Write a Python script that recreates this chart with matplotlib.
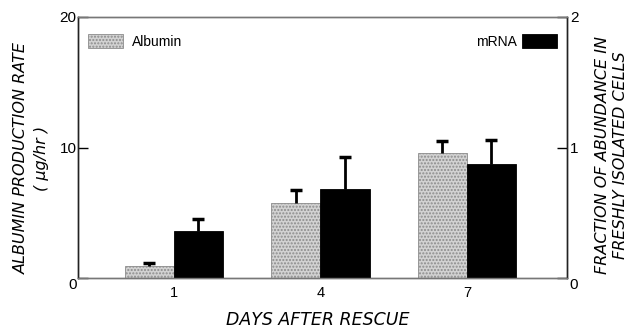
import matplotlib
matplotlib.use('Agg')
import matplotlib.pyplot as plt
import numpy as np

# values
days = ['1', '4', '7']
albumin = [0.94, 5.77, 9.55]          # ug/hr, left axis
albumin_err = [0.18, 0.97, 0.95]
mrna = [0.36, 0.68, 0.87]             # fraction, right axis
mrna_err = [0.09, 0.25, 0.19]

x = np.arange(len(days))
w = 0.335

fig = plt.figure(figsize=(6.36, 3.31), dpi=100)
ax = fig.add_axes([78 / 636, 1 - 278 / 331, 489 / 636, 261 / 331])
ax2 = ax.twinx()


def upper_err(a, xs, vals, errs):
    # one-sided error bar: stem up from bar top plus a cap at the end
    vals = np.asarray(vals)
    errs = np.asarray(errs)
    a.errorbar(xs, vals, yerr=[np.zeros(len(vals)), errs], fmt='none',
               ecolor='black', elinewidth=2, capsize=0, zorder=3)
    a.plot(xs, vals + errs, ls='none', marker='_', ms=8, mew=2.5,
           color='black', zorder=3)


# Albumin bars (stippled grey) on the left scale
alb_bars = ax.bar(x - w / 2, albumin, w, color='#d2d2d2', edgecolor='#8c8c8c',
                  hatch='.....', linewidth=0.6, label='Albumin', zorder=2)
upper_err(ax, x - w / 2, albumin, albumin_err)

# mRNA bars (black) on the right scale
mrna_bars = ax2.bar(x + w / 2, mrna, w, color='black', edgecolor='black',
                    linewidth=0.6, label='mRNA', zorder=2)
upper_err(ax2, x + w / 2, mrna, mrna_err)

ax.set_xlim(-0.655, 2.683)
ax.set_ylim(0, 20)
ax2.set_ylim(0, 2)

ax.set_xticks(x)
ax.set_xticklabels(days, fontsize=10.5, family='Liberation Sans')
ax.tick_params(axis='x', length=0, pad=6)

ax.set_yticks([0, 10, 20])
ax.set_yticklabels(['0', '10', '20'], fontsize=11, family='Liberation Sans')
ax.tick_params(axis='y', direction='in', length=7, width=1, pad=1)
ax.get_yticklabels()[0].set_verticalalignment('top')

ax2.set_yticks([0, 1, 2])
ax2.set_yticklabels(['0', '1', '2'], fontsize=11, family='Liberation Sans')
ax2.tick_params(axis='y', direction='in', length=7, width=1, pad=2)
ax2.get_yticklabels()[0].set_verticalalignment('top')

for a in (ax, ax2):
    a.spines['top'].set_color('#777777')
    a.spines['bottom'].set_color('#777777')
    a.spines['left'].set_color('#222222')
    a.spines['right'].set_color('#222222')
    for s in a.spines.values():
        s.set_linewidth(1)

lab_font = dict(family='DejaVu Sans', style='italic', fontsize=11.5)
ax.set_xlabel('DAYS AFTER RESCUE', fontsize=12.5, family='DejaVu Sans',
              style='italic')
ax.xaxis.set_label_coords(0.49, -0.16)
ax.xaxis.label.set_verticalalignment('center')

ax.set_ylabel('ALBUMIN PRODUCTION RATE\n( \u00b5g/hr )', linespacing=1.4,
              **lab_font)
ax.yaxis.set_label_coords(-0.06, 0.46)

ax2.set_ylabel('FRACTION OF ABUNDANCE IN\nFRESHLY ISOLATED CELLS',
               linespacing=1.25, rotation=90, **lab_font)
ax2.yaxis.set_label_coords(1.058, 0.47)

# legends: Albumin at top left, mRNA at top right with the box after the text
leg_kw = dict(frameon=False, borderpad=0, borderaxespad=0,
              handlelength=2.5, handleheight=1.15,
              prop={'family': 'Liberation Sans', 'size': 10})
leg1 = ax.legend(handles=[alb_bars], loc='upper left',
                 bbox_to_anchor=(0.02, 0.935), handletextpad=0.7, **leg_kw)
leg2 = ax2.legend(handles=[mrna_bars], loc='upper right',
                  bbox_to_anchor=(0.979, 0.935), markerfirst=False,
                  handletextpad=0.35, **leg_kw)

fig.savefig('out.png', dpi=100)
